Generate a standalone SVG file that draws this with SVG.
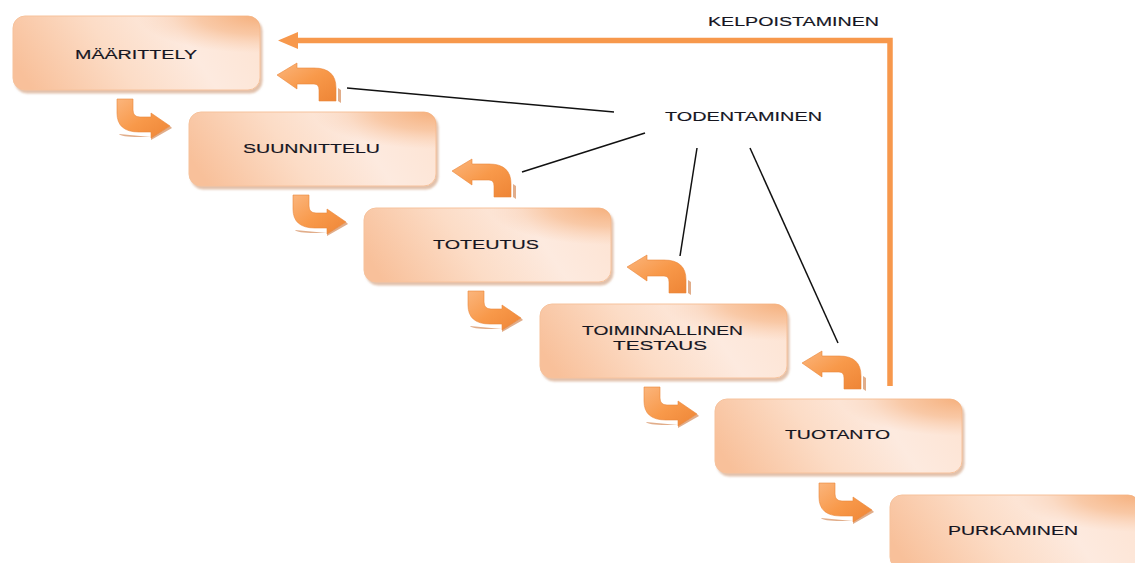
<svg xmlns="http://www.w3.org/2000/svg" width="1135" height="563" viewBox="0 0 1135 563">
  <style>
    .box { fill: url(#boxFill); stroke: #f6c29c; stroke-width: 1; filter: url(#shadow); }
    .glow { fill: url(#cornerGlow); }
    .label { font-family: "Liberation Sans", Arial, sans-serif; font-size: 12.5px; fill: #15151f; stroke: #15151f; stroke-width: 0.15; text-anchor: middle; }
    .turn { fill: url(#arrowFill); stroke: #e9873a; stroke-width: 0.6; }
    .turnShade { fill: #c9692a; opacity: 0.55; }
    .link { stroke: #111; stroke-width: 1.5; fill: none; }
  </style>
  <defs>
    <linearGradient id="boxFill" x1="0" y1="0.6" x2="1" y2="0.4">
      <stop offset="0" stop-color="#f8c09a"/>
      <stop offset="0.4" stop-color="#fcdcc6"/>
      <stop offset="0.72" stop-color="#fdeadf"/>
      <stop offset="1" stop-color="#fde4d4"/>
    </linearGradient>
    <radialGradient id="cornerGlow" cx="1" cy="0" r="0.5">
      <stop offset="0" stop-color="#f5ad78" stop-opacity="0.95"/>
      <stop offset="0.5" stop-color="#f6b585" stop-opacity="0.6"/>
      <stop offset="1" stop-color="#f8c4a0" stop-opacity="0"/>
    </radialGradient>
    <linearGradient id="arrowFill" x1="0" y1="0" x2="1" y2="1">
      <stop offset="0" stop-color="#fbb57c"/>
      <stop offset="0.5" stop-color="#f8994a"/>
      <stop offset="1" stop-color="#ee8536"/>
    </linearGradient>
    <filter id="shadow" x="-5%" y="-10%" width="112%" height="130%">
      <feGaussianBlur in="SourceAlpha" stdDeviation="1.2"/>
      <feOffset dx="2" dy="3" result="off"/>
      <feFlood flood-color="#c98e66" flood-opacity="0.55"/>
      <feComposite in2="off" operator="in"/>
      <feMerge><feMergeNode/><feMergeNode in="SourceGraphic"/></feMerge>
    </filter>
    <!-- step down to the next phase -->
    <g id="downTurn">
      <path class="turnShade" d="M2,35 Q4,38 22,38 L34,38 L34,41 L55,29 L53,27 L34,38 Z"/>
      <path class="turn" d="M0,0 L0,14 Q0,33 22,33 L34,33 L34,39 L53,27 L34,14 L34,18 L23,18 Q16,18 16,11 L16,0 Z"/>
    </g>
    <!-- step back to the previous phase -->
    <g id="upTurn">
      <path class="turnShade" d="M61,38 L61,25 L64,27 L64,40 Z"/>
      <path class="turn" d="M59,38 L59,25 Q59,5 37,5 L20,5 L20,0 L0,12 L20,26 L20,21 L37,21 Q42,21 42,27 L42,38 Z"/>
    </g>
  </defs>

  <!-- connectors -->
  <g id="connectors">
    <use href="#downTurn" x="117" y="99"/>
    <use href="#downTurn" x="293" y="195"/>
    <use href="#downTurn" x="468" y="291"/>
    <use href="#downTurn" x="644" y="387"/>
    <use href="#downTurn" x="819" y="483"/>

    <use href="#upTurn" x="277" y="63"/>
    <use href="#upTurn" x="452" y="159"/>
    <use href="#upTurn" x="627" y="255"/>
    <use href="#upTurn" x="802" y="351"/>

    <line class="link" x1="347" y1="88" x2="614" y2="112"/>
    <line class="link" x1="522" y1="172" x2="645" y2="133"/>
    <line class="link" x1="680" y1="256" x2="697" y2="148"/>
    <line class="link" x1="838" y1="343" x2="750" y2="148"/>

    <path d="M890,386 L890,40.5 L296,40.5" fill="none" stroke="#f7984c" stroke-width="5.5"/>
    <path d="M278,40.5 L298,32 L298,49 Z" fill="#f7984c"/>
    <text class="label" x="793.5" y="26" textLength="171" lengthAdjust="spacingAndGlyphs">KELPOISTAMINEN</text>
    <text class="label" x="743.5" y="120.5" textLength="157" lengthAdjust="spacingAndGlyphs">TODENTAMINEN</text>
  </g>

  <g id="maarittely">
    <rect class="box" x="13" y="16" width="247" height="74" rx="12"/>
    <rect class="glow" x="13" y="16" width="247" height="74" rx="12"/>
    <text class="label" x="136" y="59" textLength="122" lengthAdjust="spacingAndGlyphs">MÄÄRITTELY</text>
  </g>
  <g id="suunnittelu">
    <rect class="box" x="189" y="112" width="247" height="74" rx="12"/>
    <rect class="glow" x="189" y="112" width="247" height="74" rx="12"/>
    <text class="label" x="311.5" y="153" textLength="137" lengthAdjust="spacingAndGlyphs">SUUNNITTELU</text>
  </g>
  <g id="toteutus">
    <rect class="box" x="364" y="208" width="247" height="74" rx="12"/>
    <rect class="glow" x="364" y="208" width="247" height="74" rx="12"/>
    <text class="label" x="486" y="249" textLength="106" lengthAdjust="spacingAndGlyphs">TOTEUTUS</text>
  </g>
  <g id="testaus">
    <rect class="box" x="540" y="304" width="247" height="74" rx="12"/>
    <rect class="glow" x="540" y="304" width="247" height="74" rx="12"/>
    <text class="label" x="662.5" y="335" textLength="161" lengthAdjust="spacingAndGlyphs">TOIMINNALLINEN</text>
    <text class="label" x="660" y="350" textLength="94" lengthAdjust="spacingAndGlyphs">TESTAUS</text>
  </g>
  <g id="tuotanto">
    <rect class="box" x="715" y="399" width="247" height="74" rx="12"/>
    <rect class="glow" x="715" y="399" width="247" height="74" rx="12"/>
    <text class="label" x="837.5" y="439" textLength="105" lengthAdjust="spacingAndGlyphs">TUOTANTO</text>
  </g>
  <g id="purkaminen">
    <rect class="box" x="890" y="495" width="250" height="74" rx="12"/>
    <rect class="glow" x="890" y="495" width="250" height="74" rx="12"/>
    <text class="label" x="1013" y="535" textLength="130" lengthAdjust="spacingAndGlyphs">PURKAMINEN</text>
  </g>
</svg>
